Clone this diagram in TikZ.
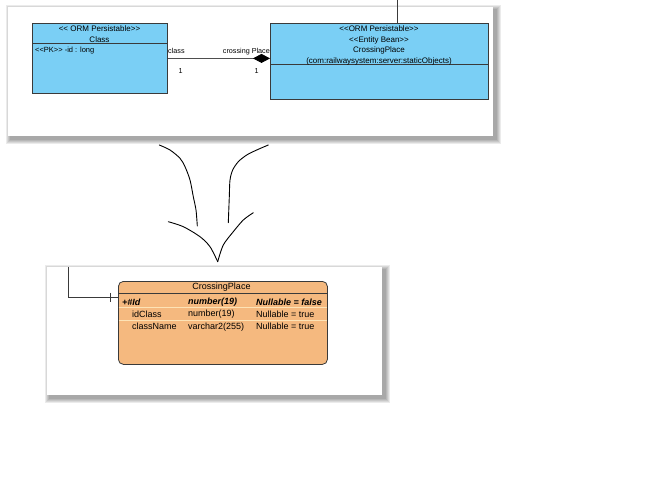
\documentclass[tikz,border=0pt]{standalone}
\usepackage{fontspec}
\setmainfont{Liberation Sans}
\usetikzlibrary{positioning,arrows.meta}
\definecolor{umlblue}{HTML}{7ACFF5}
\definecolor{erorange}{HTML}{F5B97F}
\definecolor{rowline}{HTML}{FDE3B6}
\definecolor{edgegray}{HTML}{3A3A3A}

\begin{document}
\begin{tikzpicture}[x=1pt,y=-1pt]
\tikzstyle{umlbox}=[rectangle,draw=edgegray,fill=umlblue,line width=0.8pt,anchor=north west,inner sep=0pt]
\tikzstyle{erbox}=[rectangle,rounded corners=5pt,draw=edgegray,fill=erorange,line width=0.8pt,anchor=north west,inner sep=0pt]
\tikzstyle{headtext}=[font=\fontsize{8}{10.8}\selectfont,align=center,inner sep=0pt]
\tikzstyle{lbl}=[font=\fontsize{7.2}{9}\selectfont,inner sep=0pt]
\tikzstyle{rowtext}=[font=\fontsize{9}{11}\selectfont,inner sep=0pt,anchor=west]
\tikzstyle{sketch}=[line width=0.9pt,line cap=round,line join=round]
\useasboundingbox (0,0) rectangle (666,500);
\fill[white] (0,0) rectangle (666,500);
% panels with soft shadows
\foreach \s in {1,...,5} {
  \fill[black,opacity=0.08] (11-\s,10-\s) rectangle (496+\s,139+\s);
  \fill[black,opacity=0.08] (50-\s,270-\s) rectangle (385+\s,398+\s);
}
\fill[white] (8,7) rectangle (493,136);
\fill[white] (47,267) rectangle (382,395);

% class diagram
\node[umlbox,minimum width=135pt,minimum height=70pt] (cls) at (32,23) {};
\draw[edgegray,line width=0.8pt] ([yshift=-20pt]cls.north west) -- ([yshift=-20pt]cls.north east);
\node[headtext] (clshead) at (99.5,34.5) {<{}< ORM Persistable>{}>\\Class};
\node[lbl,font=\fontsize{7.5}{9}\selectfont,anchor=west] (clsattr) at (35,51) {<{}<PK>{}> -id : long};

\node[umlbox,minimum width=218pt,minimum height=76pt] (cp) at (270,23) {};
\draw[edgegray,line width=0.8pt] ([yshift=-41pt]cp.north west) -- ([yshift=-41pt]cp.north east);
\node[headtext] (cphead) at (379,45.5) {<{}<ORM Persistable>{}>\\<{}<Entity Bean>{}>\\CrossingPlace\\(com:railwaysystem:server:staticObjects)};
\coordinate (cptop) at (397.5,0);
\draw[edgegray,line width=0.8pt] (cptop) -- (cptop |- cp.north);

\draw[edgegray!90,line width=0.8pt,-{Diamond[length=17pt,width=9pt,fill=black,color=black]}] (cls.east) -- (cls.east -| cp.west);
\node[lbl,anchor=base west] (rolecls) at (168,53.5) {class};
\node[lbl,anchor=base east] (rolecp) at (270,53.5) {crossing Place};
\node[lbl,anchor=base west] (mulcls) at (178.5,74) {1};
\node[lbl,anchor=base west] (mulcp) at (254.5,74) {1};

% hand drawn arrow
\draw[sketch] plot[smooth] coordinates {(159.3,145) (170,150) (180,158.3) (185,166.7) (190,180) (193.3,196.7) (196,210) (197.3,226)};
\draw[sketch] plot[smooth] coordinates {(268.3,145) (256.7,150) (246.7,155) (238.3,161.7) (232.7,170) (230,180) (229.3,196.7) (228.3,222.7)};
\draw[sketch] plot[smooth] coordinates {(168.3,221.7) (183.3,226.7) (200,236.7) (210,246.7) (217.7,261.7)};
\draw[sketch] plot[smooth] coordinates {(253.3,212.7) (243.3,220) (233.3,231.7) (223.3,245) (217.7,261.7)};

% table
\node[erbox,minimum width=209pt,minimum height=83pt] (tbl) at (118,281) {};
\draw[edgegray,line width=0.8pt] ([yshift=-12pt]tbl.north west) -- ([yshift=-12pt]tbl.north east);
\draw[rowline,line width=0.8pt] ([yshift=-26.5pt,xshift=0.5pt]tbl.north west) -- ([yshift=-26.5pt,xshift=-0.5pt]tbl.north east);
\draw[rowline,line width=0.8pt] ([yshift=-39.5pt,xshift=0.5pt]tbl.north west) -- ([yshift=-39.5pt,xshift=-0.5pt]tbl.north east);
\node[rowtext,anchor=center] (tblname) at (221.5,287) {CrossingPlace};
\node[rowtext,font=\fontsize{9}{11}\selectfont\bfseries\itshape] (pkname) at (122,302) {+\#Id};
\node[rowtext,font=\fontsize{9}{11}\selectfont\bfseries\itshape] (pktype) at (188,302) {number(19)};
\node[rowtext,font=\fontsize{9}{11}\selectfont\bfseries\itshape] (pknull) at (256,302) {Nullable = false};
\node[rowtext] (idname) at (132,314.3) {idClass};
\node[rowtext] (idtype) at (188,314.3) {number(19)};
\node[rowtext] (idnull) at (256,314.3) {Nullable = true};
\node[rowtext] (cnname) at (132,326.7) {className};
\node[rowtext] (cntype) at (188,326.7) {varchar2(255)};
\node[rowtext] (cnnull) at (256,326.7) {Nullable = true};

\coordinate (fkstart) at (68.5,267);
\coordinate (fkend) at (tbl.west |- 0,297.3);
\draw[edgegray,line width=0.8pt] (fkstart) |- (fkend);
\draw[edgegray,line width=0.8pt] ([xshift=-8pt,yshift=4.5pt]fkend) -- ([xshift=-8pt,yshift=-4.5pt]fkend);
\end{tikzpicture}
\end{document}
